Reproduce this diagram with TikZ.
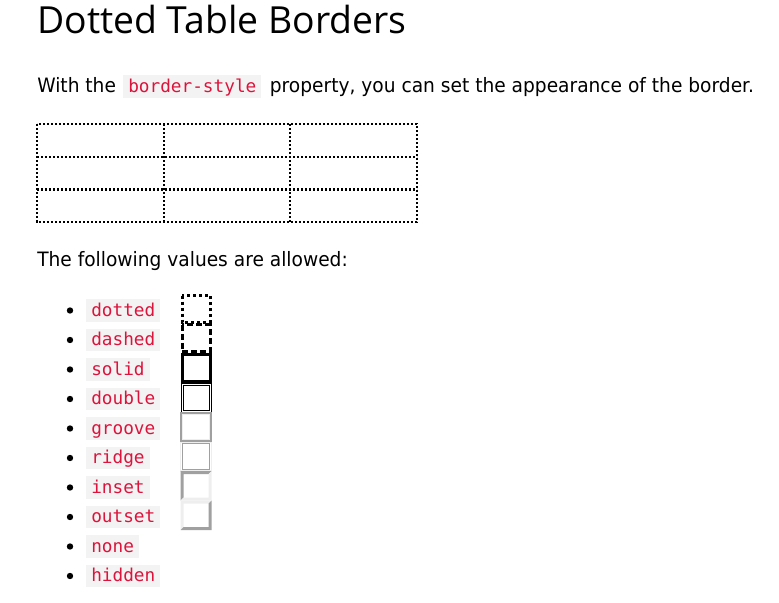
\documentclass[tikz,border=0pt]{standalone}
\usepackage{fontspec}
\setmainfont[FakeStretch=0.94]{DejaVu Sans}
\newfontfamily\headfont{Open Sans}
\newfontfamily\codefont{DejaVu Sans Mono}
\usetikzlibrary{positioning}
\definecolor{codered}{HTML}{DC143C}
\definecolor{codebg}{HTML}{F3F3F3}
\definecolor{edgedark}{HTML}{A0A0A0}
\definecolor{edgelight}{HTML}{EEEEEE}
\tikzset{
	plain/.style={anchor=base west, inner sep=0pt, font=\fontsize{14.85pt}{18pt}\selectfont},
	codebox/.style={anchor=base west, fill=codebg, text=codered, font={\codefont\fontsize{13.3pt}{16pt}\selectfont}, inner xsep=3.75pt, inner ysep=0pt, text height=12.7pt, text depth=4.3pt},
	celldots/.style={line width=1.7pt, dash pattern=on 1.6pt off 1.4pt},
	thick3/.style={line width=2.25pt},
}
% bevelled box: (left,top)(top-left colour,bottom-right colour)
\def\bevelbox(#1,#2)(#3,#4){
	\fill[#3] (#1,#2+29.4) -- (#1,#2) -- (#1+31,#2) -- (#1+28,#2+3) -- (#1+3,#2+3) -- (#1+3,#2+26.4) -- cycle;
	\fill[#4] (#1+31,#2) -- (#1+31,#2+29.4) -- (#1,#2+29.4) -- (#1+3,#2+26.4) -- (#1+28,#2+26.4) -- (#1+28,#2+3) -- cycle;
}

\begin{document}
\begin{tikzpicture}[x=0.75pt, y=-0.75pt]
		%%%%% START %%%%%
		\useasboundingbox (0,0) rectangle (779,603);
		
		\node[anchor=base west, inner sep=0pt, font={\headfont\fontsize{28pt}{32pt}\selectfont}] (title) at (37,33) {Dotted Table Borders};
		
		\node[plain] (intro) at (37,92) {With the};
		\node[codebox] (prop) at (123,92) {border-style};
		\node[plain, base right=6pt of prop] (introrest) {property, you can set the appearance of the border.};
		
		% table with dotted cell borders
		\draw[celldots] (37,124) rectangle (417,222);
		\foreach \gx in {163.7,290.3}
			\draw[celldots] (\gx,124) -- (\gx,222);
		\foreach \gy in {157,189.5}
			\draw[celldots] (37,\gy) -- (417,\gy);
		
		\node[plain] (allowed) at (37,266) {The following values are allowed:};
		
		\foreach \word [count=\i from 0] in {dotted,dashed,solid,double,groove,ridge,inset,outset,none,hidden}{
			\fill (70,310.5+29.5*\i) circle (2.4pt);
			\node[codebox] (v\word) at (86,316+29.5*\i) {\word};
		}
		
		% sample boxes
		\draw[thick3, dash pattern=on 2.25pt off 2.25pt] (182,295.5) rectangle (210,322.4);
		\draw[thick3, dash pattern=on 4.5pt off 2.25pt] (182,324.9) rectangle (210,351.8);
		\draw[thick3] (182,354.3) rectangle (210,381.2);
		\draw[line width=0.75pt] (181,383.2) rectangle (211,412.1);
		\draw[line width=0.75pt] (183,385.2) rectangle (209,410.1);
		
		\draw[line width=1.5pt, edgedark] (181,413.1) rectangle (211,441.4);
		\draw[line width=0.75pt, edgelight] (182.5,414.6) rectangle (209.5,439.9);
		\draw[line width=1.1pt, edgelight] (180.75,442.25) rectangle (211.25,471.05);
		\draw[line width=1.1pt, edgedark] (182.25,443.75) rectangle (209.75,469.55);
		
		\bevelbox(180.5,471.2)(edgedark,edgelight)
		\bevelbox(180.5,500.6)(edgelight,edgedark)
		%%%%% END %%%%%
	\end{tikzpicture}
\end{document}
